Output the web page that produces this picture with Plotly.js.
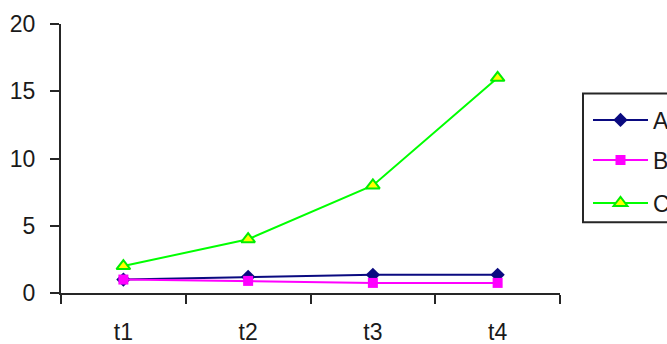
<!DOCTYPE html>
<html>
<head>
<meta charset="utf-8">
<script src="https://cdn.plot.ly/plotly-3.0.1.min.js"></script>
<style>
  html, body { margin: 0; padding: 0; background: #fff; }
  #chart { width: 667px; height: 344px; }
</style>
</head>
<body>
<div id="chart"></div>
<script>
// Categories and series values
const periods = ['t1', 't2', 't3', 't4'];
const seriesA = [1, 1.2, 1.35, 1.35];
const seriesB = [1, 0.9, 0.75, 0.75];
const seriesC = [2, 4, 8, 16];
const seriesNames = ['A', 'B', 'C'];
const yTicks = [0, 5, 10, 15, 20];

const FONT = 'Liberation Sans, Arial, sans-serif';

const traces = [
  {
    x: periods, y: seriesA, name: seriesNames[0], type: 'scatter', mode: 'lines+markers',
    line: { color: '#0a0a80', width: 2 },
    marker: { symbol: 'diamond', size: 11, color: '#0a0a80' },
    legend: 'legend'
  },
  {
    x: periods, y: seriesB, name: seriesNames[1], type: 'scatter', mode: 'lines+markers',
    line: { color: '#ff00ff', width: 2 },
    marker: { symbol: 'square', size: 10, color: '#ff00ff' },
    legend: 'legend2'
  },
  {
    x: periods, y: seriesC, name: seriesNames[2], type: 'scatter', mode: 'lines+markers',
    line: { color: '#00ff00', width: 2 },
    marker: { symbol: 'triangle-up', size: 12, color: '#ffff00', line: { color: '#00ee00', width: 2 } },
    legend: 'legend3'
  }
];

// Plot area spans x 61..560, y 23.5..292.7 (px)
const W = 667, H = 344;
const L = 61, R = W - 560, T = 23.5, B = H - 292.7;
const plotW = W - L - R, plotH = H - T - B;
const px = v => (v - L) / plotW;          // px -> paper x
const py = v => (H - B - v) / plotH;      // px -> paper y

function legendAt(yPx) {
  return {
    xref: 'container', yref: 'container',
    x: 588 / W, y: 1 - yPx / H, xanchor: 'left', yanchor: 'middle',
    bgcolor: 'rgba(0,0,0,0)', borderwidth: 0,
    font: { family: FONT, size: 23, color: '#1a1a1a' },
    itemwidth: 55
  };
}

const layout = {
  width: W, height: H,
  margin: { l: L, r: R, t: T, b: B, autoexpand: false },
  paper_bgcolor: '#ffffff', plot_bgcolor: '#ffffff',
  font: { family: FONT, size: 23, color: '#1a1a1a' },
  showlegend: true,
  legend: legendAt(120),
  legend2: legendAt(160),
  legend3: legendAt(203),
  xaxis: {
    type: 'category', categoryorder: 'array', categoryarray: periods,
    range: [-0.5, 3.5], tickson: 'boundaries',
    showline: true, linecolor: '#262626', linewidth: 2,
    ticks: 'outside', ticklen: 9, tickwidth: 2, tickcolor: '#262626',
    showgrid: false, zeroline: false, ticklabelstandoff: 17,
    tickfont: { family: FONT, size: 23, color: '#1a1a1a' }
  },
  yaxis: {
    range: [0, 20], tickmode: 'array', tickvals: yTicks, ticktext: yTicks.map(String),
    showline: true, linecolor: '#262626', linewidth: 2,
    ticks: 'outside', ticklen: 9, tickwidth: 2, tickcolor: '#262626',
    showgrid: false, zeroline: false, ticklabelstandoff: 10,
    tickfont: { family: FONT, size: 23, color: '#1a1a1a' }
  },
  shapes: [
    {
      type: 'rect', xref: 'paper', yref: 'paper', layer: 'below',
      x0: px(583), x1: px(700), y0: py(222), y1: py(93),
      line: { color: '#262626', width: 2 }, fillcolor: 'rgba(0,0,0,0)'
    }
  ]
};

Plotly.newPlot('chart', traces, layout, { displayModeBar: false, staticPlot: true });
</script>
</body>
</html>
